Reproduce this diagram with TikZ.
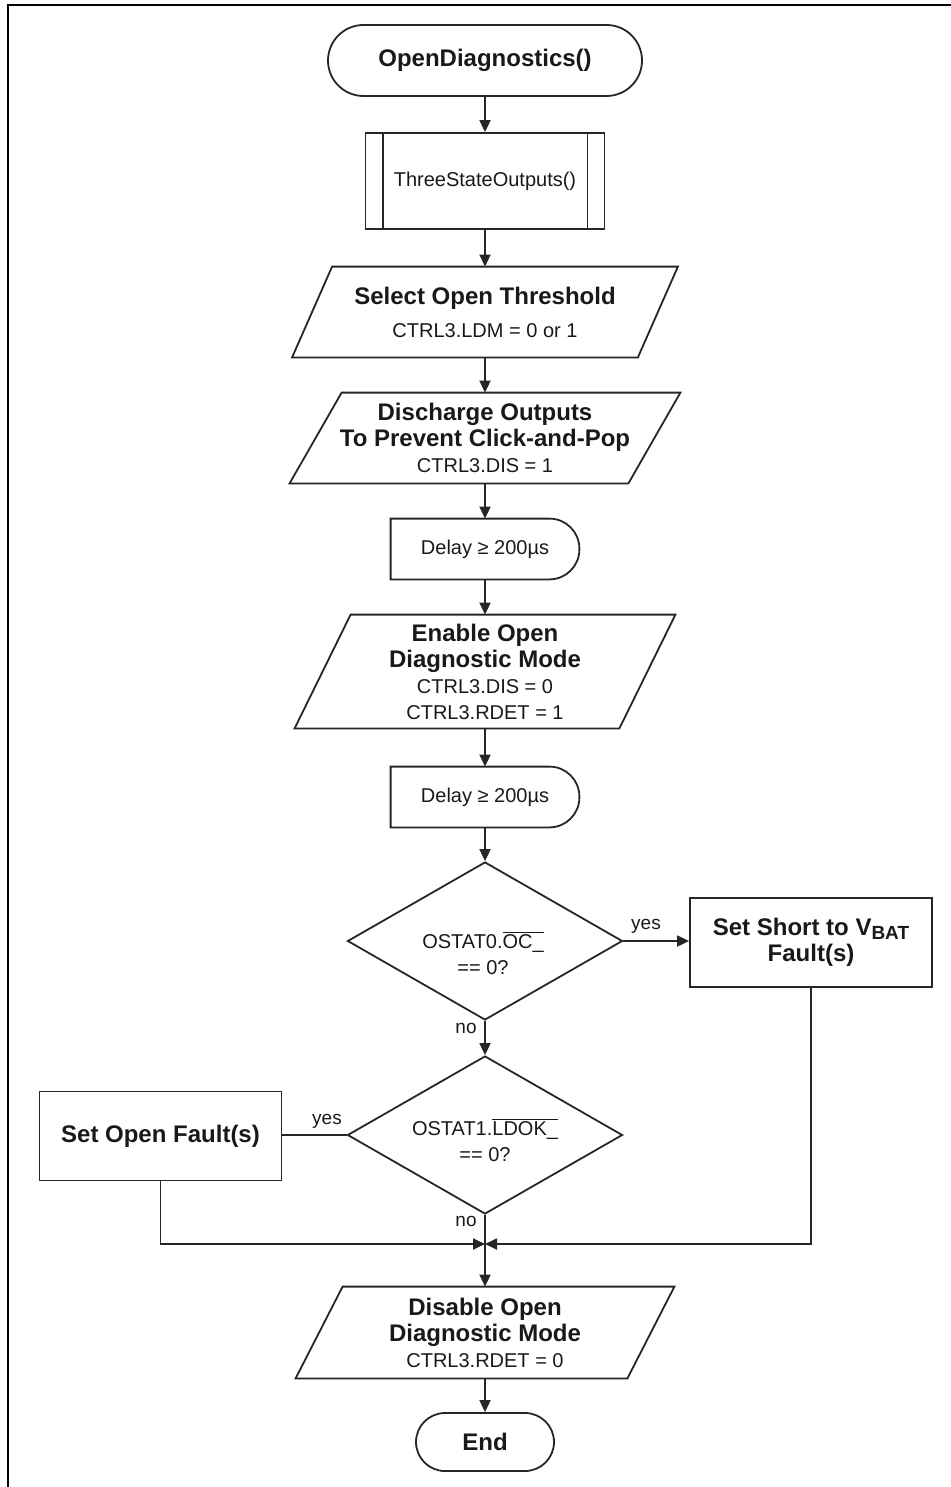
\documentclass[tikz,border=0pt]{standalone}
\usepackage{fontspec}
\setmainfont{Liberation Sans}
\usetikzlibrary{shapes.geometric,arrows.meta}

\newcommand\hdfont{\fontsize{12}{13}\selectfont\bfseries}
\newcommand\rgfont{\fontsize{10}{13}\selectfont\mdseries}
\newcommand\lblfont{\fontsize{9.5}{11}\selectfont\mdseries}
\newcommand\ovl[1]{$\overline{\mbox{#1}}$}

% slanted input/output outline around an invisible node
\newcommand\iobox[2]{\draw[line] ([xshift=#2]#1.north west) -- (#1.north east)
  -- ([xshift=-#2]#1.south east) -- (#1.south west) -- cycle;}
% delay outline: square left side, half-round right side
\newcommand\delaybox[1]{\draw[line] (#1.north west) [rounded corners=15pt] -- (#1.north east)
  -- (#1.south east) [sharp corners] -- (#1.south west) -- cycle;}

\begin{document}
\begin{tikzpicture}[x=0.5pt,y=-0.5pt,
  every node/.style={inner sep=0pt, align=center, text=black!90, font=\rgfont},
  line/.style={draw=black!85, line width=0.9pt},
  arr/.style={line, -{Triangle[length=6pt,width=5.5pt]}},
  proc/.style={line, rectangle, minimum width=121pt, minimum height=44.5pt},
  decision/.style={line, diamond, minimum width=137.5pt, minimum height=79pt}]

\useasboundingbox (0,0) rectangle (951,1487);
\draw[line width=1.2pt, black] (8,1487) -- (8,5) -- (951,5);

% terminator
\node[line, rectangle, rounded corners=17.75pt, minimum width=157pt, minimum height=35.5pt]
  (start) at (485,60.5) {\hdfont OpenDiagnostics()};

% predefined process
\node[line, rectangle, minimum width=119.5pt, minimum height=48pt]
  (sub) at (485,181) {ThreeStateOutputs()};
\draw[line] ([xshift=9pt]sub.north west) -- ([xshift=9pt]sub.south west);
\draw[line] ([xshift=-9pt]sub.north east) -- ([xshift=-9pt]sub.south east);

% select threshold
\node[minimum width=192.5pt, minimum height=45pt] (thr) at (485,312)
  {{\hdfont Select Open Threshold}\\[3.5pt]{\rgfont CTRL3.LDM = 0 or 1}};
\iobox{thr}{20pt}

% discharge
\node[minimum width=195pt, minimum height=45pt] (dis) at (485,438)
  {{\hdfont Discharge Outputs}\\{\hdfont To Prevent Click-and-Pop}\\{\rgfont CTRL3.DIS = 1}};
\iobox{dis}{26pt}

% first delay
\node[minimum width=94pt, minimum height=30pt] (dl1) at (485,549) {Delay ≥ 200µs};
\delaybox{dl1}

% enable open diagnostic mode
\node[minimum width=190pt, minimum height=56.5pt] (en) at (485,671.5)
  {{\hdfont Enable Open}\\{\hdfont Diagnostic Mode}\\{\rgfont CTRL3.DIS = 0}\\{\rgfont CTRL3.RDET = 1}};
\iobox{en}{28pt}

% second delay
\node[minimum width=94pt, minimum height=30pt] (dl2) at (485,797) {Delay ≥ 200µs};
\delaybox{dl2}

% decisions
\node[decision] (d1) at (485,941) {};
\node (d1t) at (483,953) {OSTAT0.\ovl{OC\_}\\== 0?};
\node[decision] (d2) at (485,1135) {};
\node (d2t) at (485,1140) {OSTAT1.\ovl{LDOK\_}\\== 0?};

% fault setting boxes
\node[proc] (ss) at (811,942.5)
  {\hdfont Set Short to V\raisebox{-2pt}{\fontsize{9.5}{10}\selectfont\bfseries BAT}\\\hdfont Fault(s)};
\node[proc] (so) at (160.5,1136) {\hdfont Set Open Fault(s)};

% disable open diagnostic mode
\node[minimum width=189pt, minimum height=45.5pt] (off) at (485,1332.5)
  {{\hdfont Disable Open}\\{\hdfont Diagnostic Mode}\\{\rgfont CTRL3.RDET = 0}};
\iobox{off}{23.5pt}

% end terminator
\node[line, rectangle, rounded corners=14.5pt, minimum width=69pt, minimum height=29pt]
  (end) at (485,1442) {\hdfont End};

\coordinate (j) at (485,1244);

% connectors
\draw[arr] (start) -- (sub);
\draw[arr] (sub) -- (thr);
\draw[arr] (thr) -- (dis);
\draw[arr] (dis) -- (dl1);
\draw[arr] (dl1) -- (en);
\draw[arr] (en) -- (dl2);
\draw[arr] (dl2) -- (d1);
\draw[arr] (d1.east) -- (d1.east -| ss.west);
\draw[arr] (d1.south) -- (d2.north);
\draw[line] (d2.west) -- (d2.west -| so.east);
\draw[arr] (d2.south) -- (off.north);
\draw[arr] (so.south) |- (j);
\draw[arr] (ss.south) |- (j);
\draw[arr] (off.south) -- (end.north);

% branch labels
\node[font=\lblfont] (y1) at (646,926) {yes};
\node[font=\lblfont] (n1) at (466,1028) {no};
\node[font=\lblfont] (y2) at (327,1121) {yes};
\node[font=\lblfont] (n2) at (466,1221) {no};
\end{tikzpicture}
\end{document}
